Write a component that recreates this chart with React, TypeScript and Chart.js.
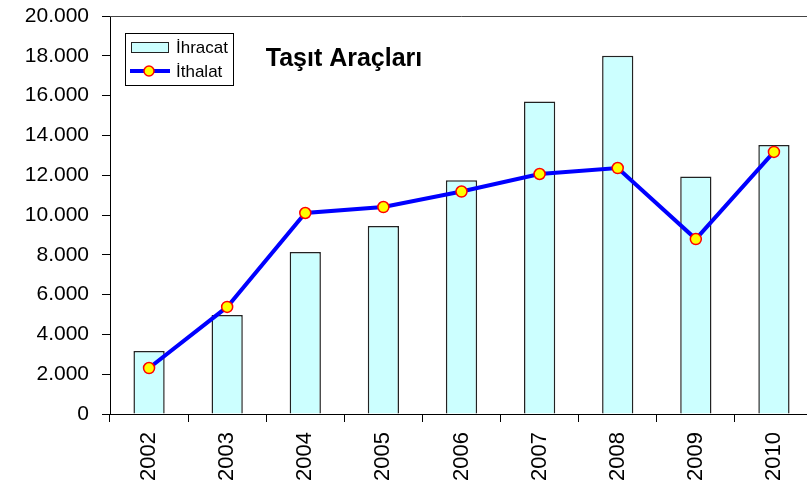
import React, { useEffect, useRef } from "react";
import { Chart, registerables } from "chart.js";

Chart.register(...registerables);

const years = ["2002", "2003", "2004", "2005", "2006", "2007", "2008", "2009", "2010"];
const ihracat = [3170, 4970, 8140, 9450, 11750, 15700, 18000, 11930, 13520];
const ithalat = [2310, 5380, 10100, 10400, 11180, 12060, 12360, 8790, 13170];
const yTickMax = 20000;
const yTickStep = 2000;
const titleText = "Taşıt Araçları";
const legendLabels = ["İhracat", "İthalat"];

const FONT = "'Liberation Sans', Arial, sans-serif";

const overlayPlugin = {
  id: "overlay",
  afterDraw(chart: any) {
    const { ctx, chartArea } = chart;
    const L = chartArea.left;
    const T = chartArea.top;
    ctx.save();
    // top & right frame
    ctx.strokeStyle = "#444";
    ctx.lineWidth = 1;
    ctx.beginPath();
    ctx.moveTo(L, T + 0.5);
    ctx.lineTo(chartArea.right + 0.5, T + 0.5);
    ctx.lineTo(chartArea.right + 0.5, chartArea.bottom);
    ctx.stroke();

    // legend box
    const bx = L + 15.5, by = T + 17.5, bw = 108, bh = 52;
    ctx.fillStyle = "#fff";
    ctx.fillRect(bx, by, bw, bh);
    ctx.strokeStyle = "#000";
    ctx.strokeRect(bx, by, bw, bh);
    // row 1 swatch
    ctx.fillStyle = "#CCFFFF";
    ctx.fillRect(L + 21.5, T + 26.5, 37, 10);
    ctx.strokeStyle = "#222";
    ctx.strokeRect(L + 21.5, T + 26.5, 37, 10);
    // row 2 swatch
    ctx.strokeStyle = "#0000FF";
    ctx.lineWidth = 4;
    ctx.beginPath();
    ctx.moveTo(L + 20, T + 55);
    ctx.lineTo(L + 60, T + 55);
    ctx.stroke();
    ctx.beginPath();
    ctx.arc(L + 39, T + 55, 5, 0, Math.PI * 2);
    ctx.fillStyle = "#FFFF00";
    ctx.fill();
    ctx.lineWidth = 1.5;
    ctx.strokeStyle = "#FF0000";
    ctx.stroke();
    // legend text
    ctx.fillStyle = "#000";
    ctx.font = "17px " + FONT;
    ctx.textAlign = "left";
    ctx.textBaseline = "middle";
    ctx.fillText(legendLabels[0], L + 66, T + 32);
    ctx.fillText(legendLabels[1], L + 66, T + 56);

    // title
    ctx.font = "bold 25px " + FONT;
    ctx.textAlign = "center";
    ctx.fillText(titleText, L + 234, T + 43);
    ctx.restore();
  },
};

export default function App() {
  const ref = useRef<HTMLCanvasElement>(null);
  useEffect(() => {
    if (!ref.current) return;
    const chart = new Chart(ref.current, {
      type: "bar",
      data: {
        labels: years,
        datasets: [
          {
            type: "line",
            label: legendLabels[1],
            data: ithalat,
            borderColor: "#0000FF",
            borderWidth: 4,
            pointRadius: 5.5,
            pointBackgroundColor: "#FFFF00",
            pointBorderColor: "#FF0000",
            pointBorderWidth: 1.5,
            tension: 0,
            order: 1,
          } as any,
          {
            type: "bar",
            label: legendLabels[0],
            data: ihracat,
            backgroundColor: "#CCFFFF",
            borderColor: "#222",
            borderWidth: 1.5,
            barPercentage: 0.4,
            categoryPercentage: 1.0,
            order: 2,
          },
        ],
      },
      options: {
        responsive: false,
        animation: false,
        devicePixelRatio: 1,
        layout: { padding: { top: 16, left: 0, right: 6, bottom: 0 } },
        plugins: { legend: { display: false }, tooltip: { enabled: false }, title: { display: false } },
        scales: {
          x: {
            offset: true,
            grid: { display: true, drawOnChartArea: false, tickLength: 8, color: "#000", offset: true },
            border: { display: true, color: "#000", width: 1 },
            ticks: {
              color: "#000",
              font: { family: FONT, size: 22 },
              minRotation: 90,
              maxRotation: 90,
              padding: 10,
            },
            afterFit: (s: any) => {
              s.height = 74;
              s.paddingLeft = 0;
              s.paddingRight = 0;
            },
          },
          y: {
            min: 0,
            max: yTickMax,
            grid: { display: true, drawOnChartArea: false, tickLength: 8, color: "#000" },
            border: { display: true, color: "#000", width: 1 },
            ticks: {
              stepSize: yTickStep,
              color: "#000",
              font: { family: FONT, size: 21 },
              padding: 13,
              callback: (v: any) => Number(v).toLocaleString("de-DE"),
            },
            afterFit: (s: any) => {
              s.width = 110;
              s.paddingTop = 0;
              s.paddingBottom = 0;
            },
          },
        },
      },
      plugins: [overlayPlugin],
    });
    return () => chart.destroy();
  }, []);
  return (
    <div
      style={{
        position: "absolute",
        left: 0,
        top: 0,
        width: 807,
        height: 488,
        overflow: "hidden",
        background: "#fff",
      }}
    >
      <canvas ref={ref} width={820} height={488} style={{ width: 820, height: 488, display: "block" }} />
    </div>
  );
}
